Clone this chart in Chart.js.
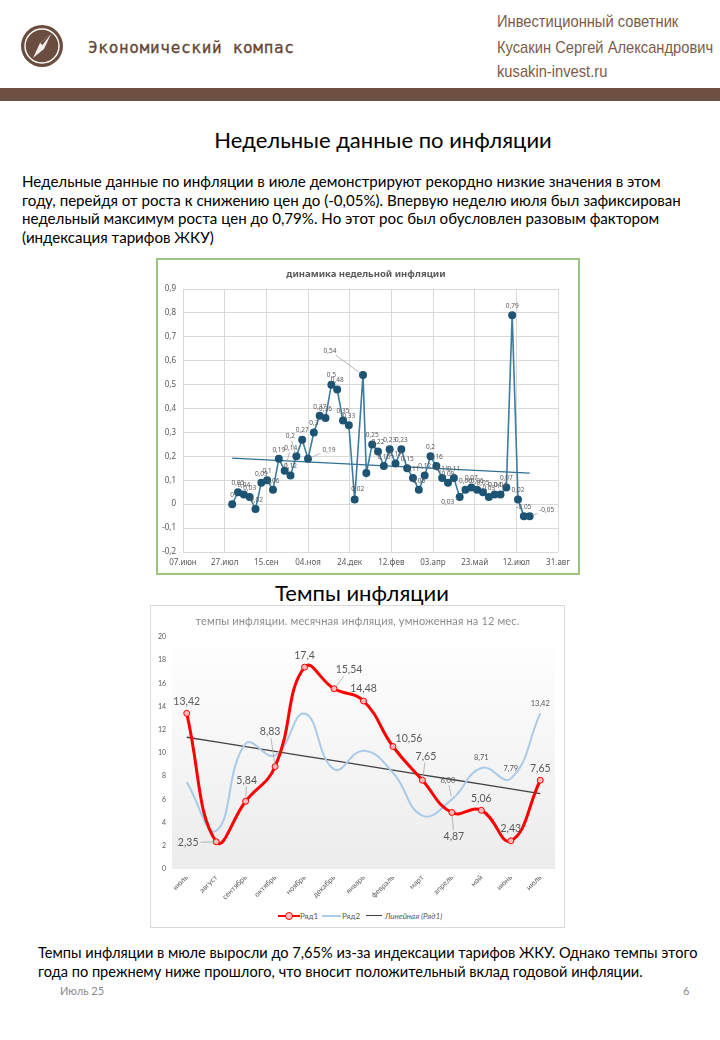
<!DOCTYPE html>
<html lang="ru">
<head>
<meta charset="utf-8">
<title>Недельные данные по инфляции</title>
<script src="https://cdn.jsdelivr.net/npm/chart.js@4.4.1/dist/chart.umd.min.js"></script>
<style>
  body { margin: 0; background: #fff; }
  #page { position: relative; width: 720px; height: 1040px; overflow: hidden; font-family: Lato, "Noto Sans", sans-serif; color: #000; }
  .abs { position: absolute; white-space: nowrap; }
  .brand { left: 88px; top: 37px; line-height: 22px; font-family: "DejaVu Sans Mono", "Liberation Mono", monospace; font-size: 16px; color: #654636; letter-spacing: 0.7px; -webkit-text-stroke: 0.3px #654636; }
  .contact { left: 497px; font-family: "Liberation Sans", sans-serif; font-size: 17px; line-height: 18px; color: #7b5b4d; transform: scaleX(0.865); transform-origin: left center; }
  .bar { left: 0; top: 88px; width: 720px; height: 13px; background: #6e5043; }
  .h1 { left: 0; width: 766px; text-align: center; font-size: 22px; line-height: 26px; }
  .para { left: 22px; top: 172px; font-size: 15.1px; line-height: 18.5px; }
  .box1 { left: 156px; top: 258px; width: 420px; height: 313px; border: 2px solid #9cc47e; }
  .box2 { left: 150px; top: 605px; width: 413px; height: 321px; border: 1px solid #d9d9d9; }
  .ctitle { position: absolute; left: 0; right: 0; text-align: center; white-space: nowrap; }
  .legend { position: absolute; top: 303px; left: 0; width: 413px; height: 14px; font-size: 8px; color: #595959; }
  .legend span { position: absolute; top: 2px; line-height: 10px; }
  .legend i.ln { position: absolute; display: block; height: 0; }
  .bottom { left: 38px; top: 943px; font-size: 14.6px; line-height: 19px; }
  .foot { top: 984px; font-size: 11px; line-height: 14px; color: #8a8a8a; }
</style>
</head>
<body>
<div id="page">
  <svg class="abs" style="left:20px;top:24px" width="44" height="44" viewBox="0 0 44 44">
    <circle cx="22" cy="22" r="21" fill="#6b4d3f"/>
    <circle cx="22" cy="22" r="17" fill="none" stroke="#fff" stroke-width="1.4"/>
    <polygon points="31,10 24,25 13,34 20,19" fill="#fff" opacity="0.9"/>
    <polygon points="31,10 20,19 22.5,21" fill="#6b4d3f"/>
  </svg>
  <div class="abs brand">Экономический компас</div>
  <div class="abs contact" style="top:13px">Инвестиционный советник</div>
  <div class="abs contact" style="top:39px">Кусакин Сергей Александрович</div>
  <div class="abs contact" style="top:63px">kusakin-invest.ru</div>
  <div class="abs bar"></div>

  <div class="abs h1" style="top:127px">Недельные данные по инфляции</div>
  <div class="abs para">Недельные данные по инфляции в июле демонстрируют рекордно низкие значения в этом<br>году, перейдя от роста к снижению цен до (-0,05%). Впервую неделю июля был зафиксирован<br>недельный максимум роста цен до 0,79%. Но этот рос был обусловлен разовым фактором<br>(индексация тарифов ЖКУ)</div>

  <div class="abs box1">
    <div class="ctitle" style="top:7px;left:-4px;font-family:'Noto Sans',sans-serif;font-weight:bold;font-size:9.5px;line-height:14px;color:#595959">динамика недельной инфляции</div>
    <canvas id="weekChart" width="420" height="313"></canvas>
  </div>

  <div class="abs h1" style="top:580px;width:724px;font-size:22px">Темпы инфляции</div>

  <div class="abs box2">
    <div class="ctitle" style="top:7px;font-size:11px;line-height:16px;color:#8c8c8c;letter-spacing:0.15px">темпы инфляции. месячная инфляция, умноженная на 12 мес.</div>
    <canvas id="rateChart" width="413" height="300"></canvas>
    <div class="legend">
      <i class="ln" style="left:127px;top:6px;width:22px;border-top:2.5px solid #ff0000"></i>
      <i class="ln" style="left:134px;top:3px;width:6px;height:6px;border:1px solid #ff0000;border-radius:50%;background:#ffc0c0"></i>
      <span style="left:149px">Ряд1</span>
      <i class="ln" style="left:171px;top:6px;width:19px;border-top:2px solid #a9cbe9"></i>
      <span style="left:191px">Ряд2</span>
      <i class="ln" style="left:215px;top:6px;width:16px;border-top:1.3px solid #404040"></i>
      <span style="left:234px;font-style:italic">Линейная (Ряд1)</span>
    </div>
  </div>

  <div class="abs bottom">Темпы инфляции в мюле выросли до 7,65% из-за индексации тарифов ЖКУ. Однако темпы этого<br>года по прежнему ниже прошлого, что вносит положительный вклад годовой инфляции.</div>
  <div class="abs foot" style="left:60px">Июль 25</div>
  <div class="abs foot" style="left:683px">6</div>
</div>

<script>
// --- Weekly inflation (top chart) ---
const weekDates = [
    '2024-08-05', '2024-08-12', '2024-08-19', '2024-08-26', '2024-09-02', '2024-09-09', '2024-09-16',
    '2024-09-23', '2024-09-30', '2024-10-07', '2024-10-14', '2024-10-21', '2024-10-28', '2024-11-04',
    '2024-11-11', '2024-11-18', '2024-11-25', '2024-12-02', '2024-12-09', '2024-12-16', '2024-12-23',
    '2024-12-30', '2025-01-09',
    '2025-01-13', '2025-01-20', '2025-01-27', '2025-02-03', '2025-02-10', '2025-02-17', '2025-02-24',
    '2025-03-03', '2025-03-10', '2025-03-17', '2025-03-24', '2025-03-31', '2025-04-07', '2025-04-14',
    '2025-04-21', '2025-04-28', '2025-05-05', '2025-05-12', '2025-05-19', '2025-05-26', '2025-06-02',
    '2025-06-09', '2025-06-16', '2025-06-23', '2025-06-30',
    '2025-07-07', '2025-07-14', '2025-07-21', '2025-07-28'
];
const weekValues = [
    0, 0.05, 0.04, 0.03, -0.02, 0.09, 0.1,
    0.06, 0.19, 0.14, 0.12, 0.2, 0.27, 0.19,
    0.3, 0.37, 0.36, 0.5, 0.48, 0.35, 0.33,
    0.02, 0.54,
    0.13, 0.25, 0.22, 0.16, 0.23, 0.17, 0.23,
    0.15, 0.11, 0.06, 0.12, 0.2, 0.16, 0.11,
    0.09, 0.11, 0.03, 0.06, 0.07, 0.06, 0.05,
    0.03, 0.04, 0.04, 0.07,
    0.79, 0.02, -0.05, -0.05
];
const weekAxisStart = '2024-06-07';
const weekAxisStep = 50; // days between date ticks
const weekTickLabels = ['07.июн', '27.июл', '15.сен', '04.ноя', '24.дек', '12.фев', '03.апр', '23.май', '12.июл', '31.авг'];
const weekYTicks = { min: -0.2, max: 0.9, step: 0.1 };

// --- Monthly rate x12 (bottom chart) ---
const monthLabels = ['июль', 'август', 'сентябрь', 'октябрь', 'ноябрь', 'декабрь', 'январь', 'февраль', 'март', 'апрель', 'май', 'июнь', 'июль'];
const series1Values = [13.42, 2.35, 5.84, 8.83, 17.4, 15.54, 14.48, 10.56, 7.65, 4.87, 5.06, 2.43, 7.65];
const series2Values = [7.5, 3.3, 10.8, 9.8, 13.4, 8.6, 10.2, 8.3, 4.6, 6.0, 8.71, 7.79, 13.42];
const rateYTicks = { min: 0, max: 20, step: 2 };

const DAY = 864e5;
const toDay = d => Math.round((Date.parse(d) - Date.parse(weekAxisStart)) / DAY);
const comma = v => String(Math.round(v * 100) / 100).replace('.', ',');

// least squares line, same as the Excel trendline
function linearFit(xs, ys) {
    const n = xs.length;
    const mx = xs.reduce((a, b) => a + b, 0) / n;
    const my = ys.reduce((a, b) => a + b, 0) / n;
    let sxy = 0, sxx = 0;
    xs.forEach((x, i) => { sxy += (x - mx) * (ys[i] - my); sxx += (x - mx) * (x - mx); });
    const slope = sxy / sxx;
    return x => my + slope * (x - mx);
}

/**
 * Draws data labels next to points, with optional leader lines.
 * offsets: index -> [dx, dy, leader]
 */
function pointLabels(id, specs) {
    return {
        id: id,
        afterDatasetsDraw(chart) {
            const ctx = chart.ctx;
            specs.forEach(spec => {
                const meta = chart.getDatasetMeta(spec.dataset);
                const data = chart.data.datasets[spec.dataset].data;
                ctx.save();
                ctx.font = spec.font;
                ctx.textAlign = 'center';
                ctx.textBaseline = 'middle';
                meta.data.forEach((pt, i) => {
                    if (spec.only && !spec.only.includes(i)) return;
                    if (spec.hide && spec.hide.includes(i)) return;
                    const raw = data[i];
                    const v = typeof raw === 'object' ? raw.y : raw;
                    const text = spec.format(v);
                    const off = (spec.offsets && spec.offsets[i]) || [0, spec.dy, false];
                    const cx = pt.x + off[0], cy = pt.y + off[1];
                    if (off[2]) {
                        const w = ctx.measureText(text).width / 2 + 2, h = spec.size / 2 + 1;
                        const dx = pt.x - cx, dy = pt.y - cy;
                        const t = Math.min(dx ? w / Math.abs(dx) : Infinity, dy ? h / Math.abs(dy) : Infinity);
                        const len = Math.hypot(dx, dy);
                        ctx.strokeStyle = '#a6a6a6';
                        ctx.lineWidth = 0.8;
                        ctx.beginPath();
                        ctx.moveTo(cx + dx * t, cy + dy * t);
                        ctx.lineTo(pt.x - dx / len * 3, pt.y - dy / len * 3);
                        ctx.stroke();
                    }
                    ctx.fillStyle = spec.color;
                    ctx.fillText(text, cx, cy);
                });
                ctx.restore();
            });
        }
    };
}

// --- Top chart ---
const weekDays = weekDates.map(toDay);
const weekFit = linearFit(weekDays, weekValues);
const weekFirst = weekDays[0], weekLast = weekDays[weekDays.length - 1];

new Chart(document.getElementById('weekChart'), {
    type: 'line',
    data: {
        datasets: [{
            data: weekDays.map((d, i) => ({ x: d, y: weekValues[i] })),
            borderColor: '#3d7ba1',
            borderWidth: 1.6,
            pointBackgroundColor: '#1d5474',
            pointBorderColor: '#1d5474',
            pointRadius: 3.2,
            tension: 0
        }, {
            data: [{ x: weekFirst, y: weekFit(weekFirst) }, { x: weekLast, y: weekFit(weekLast) }],
            borderColor: '#2f6f92',
            borderWidth: 1.3,
            pointRadius: 0,
            tension: 0
        }]
    },
    options: {
        responsive: false,
        animation: false,
        layout: { padding: { top: 29, right: 20, left: 0, bottom: 0 } },
        plugins: { legend: { display: false }, title: { display: false }, tooltip: { enabled: false } },
        scales: {
            x: {
                type: 'linear',
                min: 0,
                max: weekAxisStep * (weekTickLabels.length - 1),
                afterFit: s => { s.height = 21; },
                grid: { color: '#d9d9d9', drawTicks: false },
                border: { display: false },
                ticks: {
                    stepSize: weekAxisStep, autoSkip: false, maxRotation: 0, padding: 6,
                    color: '#595959', font: { family: 'Noto Sans', size: 8 },
                    callback: (v, i) => weekTickLabels[i]
                }
            },
            y: {
                min: weekYTicks.min,
                max: weekYTicks.max,
                afterFit: s => { s.width = 25; },
                grid: { color: '#d9d9d9', drawTicks: false },
                border: { display: false },
                ticks: {
                    stepSize: weekYTicks.step, padding: 7,
                    color: '#595959', font: { family: 'Noto Sans', size: 8 },
                    callback: v => comma(Math.round(v * 10) / 10)
                }
            }
        }
    },
    plugins: [pointLabels('weekLabels', [{
        dataset: 0,
        font: '6.5px "Noto Sans"',
        size: 6.5,
        color: '#595959',
        dy: -9,
        format: comma,
        hide: [23],
        offsets: {
            9: [6, -23, true],
            11: [-6, -20, true],
            13: [21, -9, true],
            21: [3, -10, false],
            22: [-33, -24, true],
            39: [-12, 5, true],
            51: [17, -6, true]
        }
    }])]
});

// --- Bottom chart ---
const rateIdx = monthLabels.map((_, i) => i);
const rateFit = linearFit(rateIdx, series1Values);

const plotBackground = {
    id: 'plotBackground',
    beforeDatasetsDraw(chart) {
        const { ctx, chartArea: a } = chart;
        const g = ctx.createLinearGradient(0, a.top, 0, a.bottom);
        g.addColorStop(0, '#ffffff');
        g.addColorStop(1, '#ececec');
        ctx.save();
        ctx.fillStyle = g;
        ctx.fillRect(a.left, a.top, a.right - a.left, a.bottom - a.top);
        ctx.restore();
    }
};

new Chart(document.getElementById('rateChart'), {
    type: 'line',
    data: {
        labels: monthLabels,
        datasets: [{
            label: 'Ряд1',
            data: series1Values,
            borderColor: '#ff0000',
            borderWidth: 3,
            pointRadius: 3,
            pointBorderWidth: 1,
            pointBorderColor: '#ff0000',
            pointBackgroundColor: '#ffb8b8',
            tension: 0.45
        }, {
            label: 'Ряд2',
            data: series2Values,
            borderColor: '#a9cbe9',
            borderWidth: 2,
            pointRadius: 0,
            tension: 0.45
        }, {
            label: 'Линейная (Ряд1)',
            data: rateIdx.map(rateFit),
            borderColor: '#404040',
            borderWidth: 1.3,
            pointRadius: 0,
            tension: 0
        }]
    },
    options: {
        responsive: false,
        animation: false,
        layout: { padding: { top: 31, right: 9, left: 0, bottom: 0 } },
        plugins: { legend: { display: false }, title: { display: false }, tooltip: { enabled: false } },
        scales: {
            x: {
                offset: true,
                afterFit: s => { s.height = 37; },
                grid: { display: false, drawTicks: false },
                border: { display: false },
                ticks: {
                    autoSkip: false, minRotation: 45, maxRotation: 45, padding: 4,
                    color: '#595959', font: { family: 'Lato', size: 7.5 }
                }
            },
            y: {
                min: rateYTicks.min,
                max: rateYTicks.max,
                afterFit: s => { s.width = 21; },
                grid: { display: false, drawTicks: false },
                border: { display: false },
                ticks: { stepSize: rateYTicks.step, padding: 6, color: '#595959', font: { family: 'Lato', size: 7 } }
            }
        }
    },
    plugins: [plotBackground, pointLabels('rateLabels', [{
        dataset: 0,
        font: '10.5px Lato',
        size: 10.5,
        color: '#595959',
        dy: -12,
        format: comma,
        offsets: {
            1: [-28, 1, true],
            2: [1, -21, true],
            3: [-5, -35, true],
            5: [15, -19, true],
            7: [16, -8, false],
            8: [3.5, -24, true],
            9: [2, 24, true]
        }
    }, {
        dataset: 1,
        font: '7.5px Lato',
        size: 7.5,
        color: '#595959',
        dy: -10,
        format: v => v.toFixed(2).replace('.', ','),
        only: [9, 10, 11, 12],
        offsets: { 9: [-4, -19, true] }
    }])]
});
</script>
</body>
</html>
